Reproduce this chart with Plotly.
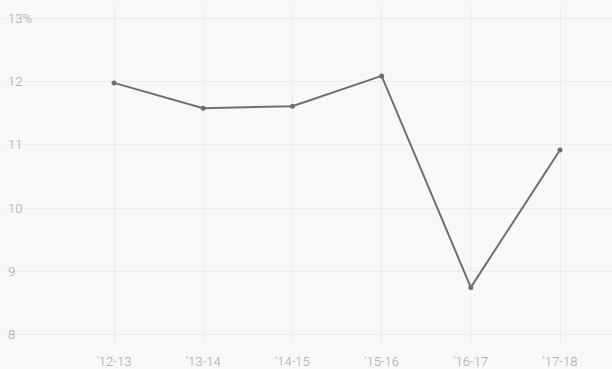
import plotly.graph_objects as go

categories = ["'12-13", "'13-14", "'14-15", "'15-16", "'16-17", "'17-18"]
values = [11.98, 11.58, 11.61, 12.09, 8.75, 10.92]
y_ticks = [8, 9, 10, 11, 12, 13]
y_tick_labels = ["8", "9", "10", "11", "12", "13%"]

fig = go.Figure()
fig.add_trace(go.Scatter(
    x=list(range(len(categories))), y=values, mode="lines+markers",
    line=dict(color="#6f6f6f", width=2),
    marker=dict(color="#6f6f6f", size=5),
    hoverinfo="skip",
))

tick_font = dict(family="Roboto", size=13, color="#a6a6a6", weight=300)

fig.update_layout(
    width=612, height=369,
    margin=dict(l=5, r=0, t=5, b=24),
    paper_bgcolor="#f8f8f8", plot_bgcolor="#f8f8f8",
    showlegend=False,
    font=dict(family="Roboto", size=13, color="#a6a6a6"),
    xaxis=dict(
        range=[-1.222, 5.583], tickvals=list(range(len(categories))), ticktext=categories,
        showgrid=True, gridcolor="#ececec", gridwidth=1, zeroline=False, showline=False,
        ticks="outside", ticklen=4, tickcolor="rgba(0,0,0,0)", tickfont=tick_font,
        automargin=False,
    ),
    yaxis=dict(
        range=[7.84, 13.21], tickvals=y_ticks, ticktext=y_tick_labels,
        showgrid=True, gridcolor="#ececec", gridwidth=1, zeroline=False, showline=False,
        ticks="", ticklabelposition="inside", tickfont=tick_font, automargin=False,
    ),
)

fig.write_html("out.html")
